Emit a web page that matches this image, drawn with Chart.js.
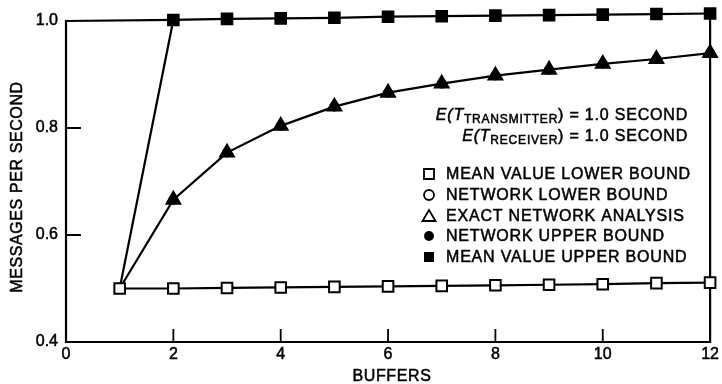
<!DOCTYPE html>
<html>
<head>
<meta charset="utf-8">
<script src="https://cdn.jsdelivr.net/npm/chart.js@4.4.1/dist/chart.umd.min.js"></script>
<style>
  html, body { margin: 0; padding: 0; background: #fff; }
  #wrap { width: 722px; height: 384px; }
</style>
</head>
<body>
<div id="wrap"><canvas id="chart"></canvas></div>
<script>
// throughput vs. number of buffers, both stages with 1.0 s mean service
const buffers = [1, 2, 3, 4, 5, 6, 7, 8, 9, 10, 11, 12];
const meanValueLower = [0.500, 0.500, 0.501, 0.502, 0.503, 0.504, 0.505, 0.506, 0.507, 0.508, 0.510, 0.511];
const networkLower = [0.500, 0.666, 0.754, 0.804, 0.840, 0.866, 0.883, 0.898, 0.909, 0.920, 0.929, 0.940];
const exactNetwork = [0.500, 0.666, 0.754, 0.804, 0.840, 0.866, 0.883, 0.898, 0.909, 0.920, 0.929, 0.940];
const networkUpper = [0.500, 0.666, 0.754, 0.804, 0.840, 0.866, 0.883, 0.898, 0.909, 0.920, 0.929, 0.940];
const meanValueUpper = [0.500, 1.002, 1.004, 1.005, 1.006, 1.008, 1.009, 1.010, 1.011, 1.012, 1.013, 1.014];

const xTicks = [0, 2, 4, 6, 8, 10, 12];
const yTicks = [0.4, 0.6, 0.8, 1.0];
const legendLabels = [
    "MEAN VALUE LOWER BOUND",
    "NETWORK LOWER BOUND",
    "EXACT NETWORK ANALYSIS",
    "NETWORK UPPER BOUND",
    "MEAN VALUE UPPER BOUND"
];

const FONT = "'Liberation Sans', Arial, Helvetica, sans-serif";

function pts(values) {
    return buffers.map((b, i) => ({ x: b, y: values[i] }));
}

// text with a thin outline so it reads a bit heavier than regular
function heavyText(ctx, t, x, y) {
    ctx.fillText(t, x, y);
    ctx.strokeText(t, x, y);
}

// axis frame (open at the top past 2 buffers) plus inward tick marks
const framePlugin = {
    id: "frame",
    beforeDatasetsDraw(chart) {
        const { ctx, chartArea: a, scales: { x, y } } = chart;
        ctx.save();
        ctx.strokeStyle = "#000";
        ctx.lineWidth = 2.2;
        ctx.lineCap = "square";
        ctx.beginPath();
        ctx.moveTo(a.left, y.getPixelForValue(1.0));
        ctx.lineTo(a.left, a.bottom);
        ctx.lineTo(a.right, a.bottom);
        ctx.lineTo(a.right, y.getPixelForValue(meanValueUpper[meanValueUpper.length - 1]));
        ctx.moveTo(a.left, y.getPixelForValue(1.0));
        ctx.lineTo(x.getPixelForValue(2), y.getPixelForValue(meanValueUpper[1]));
        ctx.stroke();

        ctx.lineWidth = 1.8;
        ctx.beginPath();
        xTicks.slice(1, -1).forEach(v => {
            const px = x.getPixelForValue(v);
            ctx.moveTo(px, a.bottom);
            ctx.lineTo(px, a.bottom - 12);
        });
        yTicks.slice(1, -1).forEach(v => {
            const py = y.getPixelForValue(v);
            ctx.moveTo(a.left, py);
            ctx.lineTo(a.left + 14, py);
        });
        ctx.stroke();
        ctx.restore();
    }
};

// axis titles, parameter note and symbol key
const notePlugin = {
    id: "note",
    afterDraw(chart) {
        const ctx = chart.ctx;
        ctx.save();
        ctx.fillStyle = "#000";
        ctx.strokeStyle = "#000";
        ctx.textBaseline = "middle";

        const big = "16px " + FONT;
        const bigItalic = "italic 16px " + FONT;
        const small = "12px " + FONT;

        ctx.lineWidth = 0.5;
        ctx.font = big;
        ctx.textAlign = "center";
        ctx.letterSpacing = "0.6px";
        heavyText(ctx, "BUFFERS", 392, 377);
        ctx.save();
        ctx.translate(18, 187);
        ctx.rotate(-Math.PI / 2);
        heavyText(ctx, "MESSAGES PER SECOND", 0, 0);
        ctx.restore();

        ctx.letterSpacing = "0.8px";
        const right = 688;
        function eLine(sub, cy) {
            const parts = [
                { t: "E(T", f: bigItalic, dy: 0 },
                { t: sub, f: small, dy: 4 },
                { t: ") = 1.0 SECOND", f: big, dy: 0 }
            ];
            let w = 0;
            parts.forEach(p => { ctx.font = p.f; w += ctx.measureText(p.t).width; });
            let px = right - w;
            ctx.textAlign = "left";
            parts.forEach(p => {
                ctx.font = p.f;
                heavyText(ctx, p.t, px, cy + p.dy);
                px += ctx.measureText(p.t).width;
            });
        }
        eLine("TRANSMITTER", 116);
        eLine("RECEIVER", 137);

        const sx = 429, tx = 446;
        const rows = [174, 195, 216, 236, 257];
        ctx.font = big;
        ctx.textAlign = "left";
        legendLabels.forEach((label, i) => {
            const cy = rows[i];
            ctx.lineWidth = 1.8;
            ctx.beginPath();
            if (i === 0) {
                ctx.rect(sx - 5, cy - 5, 10, 10);
                ctx.stroke();
            } else if (i === 1) {
                ctx.arc(sx, cy, 5, 0, Math.PI * 2);
                ctx.stroke();
            } else if (i === 2) {
                ctx.moveTo(sx, cy - 6);
                ctx.lineTo(sx + 6.5, cy + 5);
                ctx.lineTo(sx - 6.5, cy + 5);
                ctx.closePath();
                ctx.stroke();
            } else if (i === 3) {
                ctx.arc(sx, cy, 5, 0, Math.PI * 2);
                ctx.fill();
            } else {
                ctx.rect(sx - 5, cy - 5, 10, 10);
                ctx.fill();
            }
            ctx.lineWidth = 0.5;
            heavyText(ctx, label, tx, cy + 1);
        });
        ctx.restore();
    }
};

const lineBase = {
    borderColor: "#000",
    borderWidth: 2.2,
    tension: 0,
    clip: false,
    pointBorderColor: "#000",
    pointBorderWidth: 2
};

// the shared starting point at one buffer shows only the open square
const hideFirst = r => c => (c.dataIndex === 0 ? 0 : r);

const tickFont = { family: FONT, size: 16 };

new Chart(document.getElementById("chart"), {
    type: "line",
    data: {
        datasets: [
            { ...lineBase, label: legendLabels[0], data: pts(meanValueLower), order: 0,
              pointStyle: "rect", pointRadius: 7.5, pointBackgroundColor: "#fff" },
            { ...lineBase, label: legendLabels[3], data: pts(networkUpper), order: 1, showLine: false,
              pointStyle: "circle", pointRadius: hideFirst(4.2), pointBorderWidth: 0, pointBackgroundColor: "#000" },
            { ...lineBase, label: legendLabels[1], data: pts(networkLower), order: 2, showLine: false,
              pointStyle: "circle", pointRadius: hideFirst(4), pointBackgroundColor: "#fff" },
            { ...lineBase, label: legendLabels[2], data: pts(exactNetwork), order: 3,
              pointStyle: "triangle", pointRadius: hideFirst(7.5), pointBorderWidth: 2.4, pointBackgroundColor: "#fff" },
            { ...lineBase, label: legendLabels[4], data: pts(meanValueUpper), order: 4,
              pointStyle: "rect", pointRadius: hideFirst(7.5), pointBackgroundColor: "#000" }
        ]
    },
    options: {
        responsive: true,
        maintainAspectRatio: false,
        animation: false,
        events: [],
        layout: { padding: { top: 21, right: 11, left: 0, bottom: 0 } },
        plugins: { legend: { display: false }, tooltip: { enabled: false } },
        scales: {
            x: {
                type: "linear",
                min: 0,
                max: 12,
                afterBuildTicks: s => { s.ticks = xTicks.map(v => ({ value: v })); },
                afterFit: s => { s.height = 42; },
                grid: { display: false, drawTicks: false },
                border: { display: false },
                ticks: { color: "#000", padding: 3, font: tickFont,
                         textStrokeColor: "#000", textStrokeWidth: 0.5 }
            },
            y: {
                min: 0.4,
                max: 1.0,
                afterBuildTicks: s => { s.ticks = yTicks.map(v => ({ value: v })); },
                afterFit: s => { s.width = 66; },
                grid: { display: false, drawTicks: false },
                border: { display: false },
                ticks: { color: "#000", padding: 8, font: tickFont,
                         textStrokeColor: "#000", textStrokeWidth: 0.5,
                         callback: v => v.toFixed(1) }
            }
        }
    },
    plugins: [framePlugin, notePlugin]
});
</script>
</body>
</html>
